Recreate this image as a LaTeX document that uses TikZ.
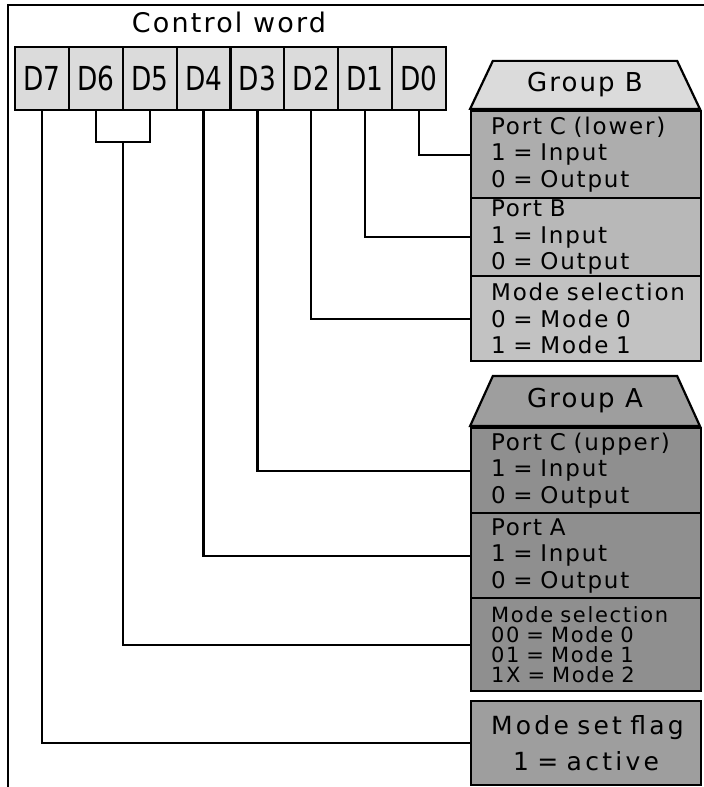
\documentclass[tikz,border=0pt]{standalone}
\usepackage{fontspec}
\setmainfont{DejaVu Sans}
\newfontfamily\cellfont{DejaVu Sans}[LetterSpace=8]
\newfontfamily\titlefont{DejaVu Sans}[LetterSpace=8]
\newfontfamily\flagfont{DejaVu Sans}[LetterSpace=13]
\newfontfamily\bitfont{DejaVu Sans}[FakeStretch=0.8]
\usetikzlibrary{shapes.geometric,calc}
\definecolor{bitgray}{gray}{0.86}
\definecolor{hdrB}{gray}{0.86}
\definecolor{cB1}{gray}{0.68}
\definecolor{cB2}{gray}{0.72}
\definecolor{cB3}{gray}{0.76}
\definecolor{hdrA}{gray}{0.62}
\definecolor{cA}{gray}{0.56}
\definecolor{flagc}{gray}{0.62}
\begin{document}
\begin{tikzpicture}[x=1pt,y=-1pt,line width=2.2pt,
  bitbox/.style={draw,fill=bitgray,minimum width=53.875pt,minimum height=63pt,inner sep=0pt,font=\bitfont\fontsize{33}{33}\selectfont},
  cell/.style={draw,anchor=north west,text width=190pt,inner xsep=20pt,inner ysep=0pt,align=left,font=\cellfont\fontsize{23}{26.5}\selectfont},
  hdr/.style={draw,trapezium,trapezium angle=60,trapezium stretches=true,minimum width=230pt,minimum height=48pt,anchor=south,inner sep=0pt,font=\titlefont\fontsize{26}{26}\selectfont},
  conn/.style={draw,line width=2.2pt}]
\useasboundingbox (0,0) rectangle (704,787);
% frame
\draw (8,787) -- (8,5) -- (704,5);
\node[font=\titlefont\fontsize{27}{27}\selectfont] (title) at (229,22) {Control word};
% bit boxes
\foreach \n [count=\i from 0] in {7,6,5,4,3,2,1,0}
  \node[bitbox] (D\n) at ({41.94+53.875*\i},78.5) {D\n};
% group B
\node[hdr,fill=hdrB] (gB) at (585,110) {Group B};
\node[cell,fill=cB1,minimum height=87pt] (pcl) at (470,110) {\mbox{Port C (lower)}\\1 = Input\\0 = Output};
\node[cell,fill=cB2,minimum height=78pt] (pb) at (470,197) {Port B\\1 = Input\\0 = Output};
\node[cell,fill=cB3,minimum height=85pt] (msb) at (470,275) {\mbox{Mode selection}\\0 = Mode 0\\1 = Mode 1};
% group A
\node[hdr,fill=hdrA,minimum height=50pt] (gA) at (585,427) {Group A};
\node[cell,fill=cA,minimum height=85pt] (pcu) at (470,427) {\mbox{Port C (upper)}\\1 = Input\\0 = Output};
\node[cell,fill=cA,minimum height=85pt] (pa) at (470,512) {Port A\\1 = Input\\0 = Output};
\node[cell,fill=cA,minimum height=93pt,font=\cellfont\fontsize{21}{20}\selectfont] (msa) at (470,597) {\mbox{Mode selection}\\00 = Mode 0\\01 = Mode 1\\1X = Mode 2};
% flag
\node[cell,fill=flagc,minimum height=84pt,align=center,font=\flagfont\fontsize{25}{36}\selectfont] (msf) at (470,700) {\mbox{Mode set flag}\\1 = active};
% connectors
\draw[conn] (D0.south) |- (pcl.west);
\draw[conn] (D1.south) |- (pb.west);
\draw[conn] (D2.south) |- (msb.west);
\draw[conn] (D3.south) |- (pcu.west);
\draw[conn] (D4.south) |- (pa.west);
\path (D6.south) ++(0,31) coordinate (b6);
\path (D5.south) ++(0,31) coordinate (b5);
\draw[conn] (D6.south) -- (b6) -- (b5) -- (D5.south);
\coordinate (bm) at ($(b6)!0.5!(b5)$);
\draw[conn] (bm) |- (msa.west);
\draw[conn] (D7.south) |- (msf.west);
\end{tikzpicture}
\end{document}
